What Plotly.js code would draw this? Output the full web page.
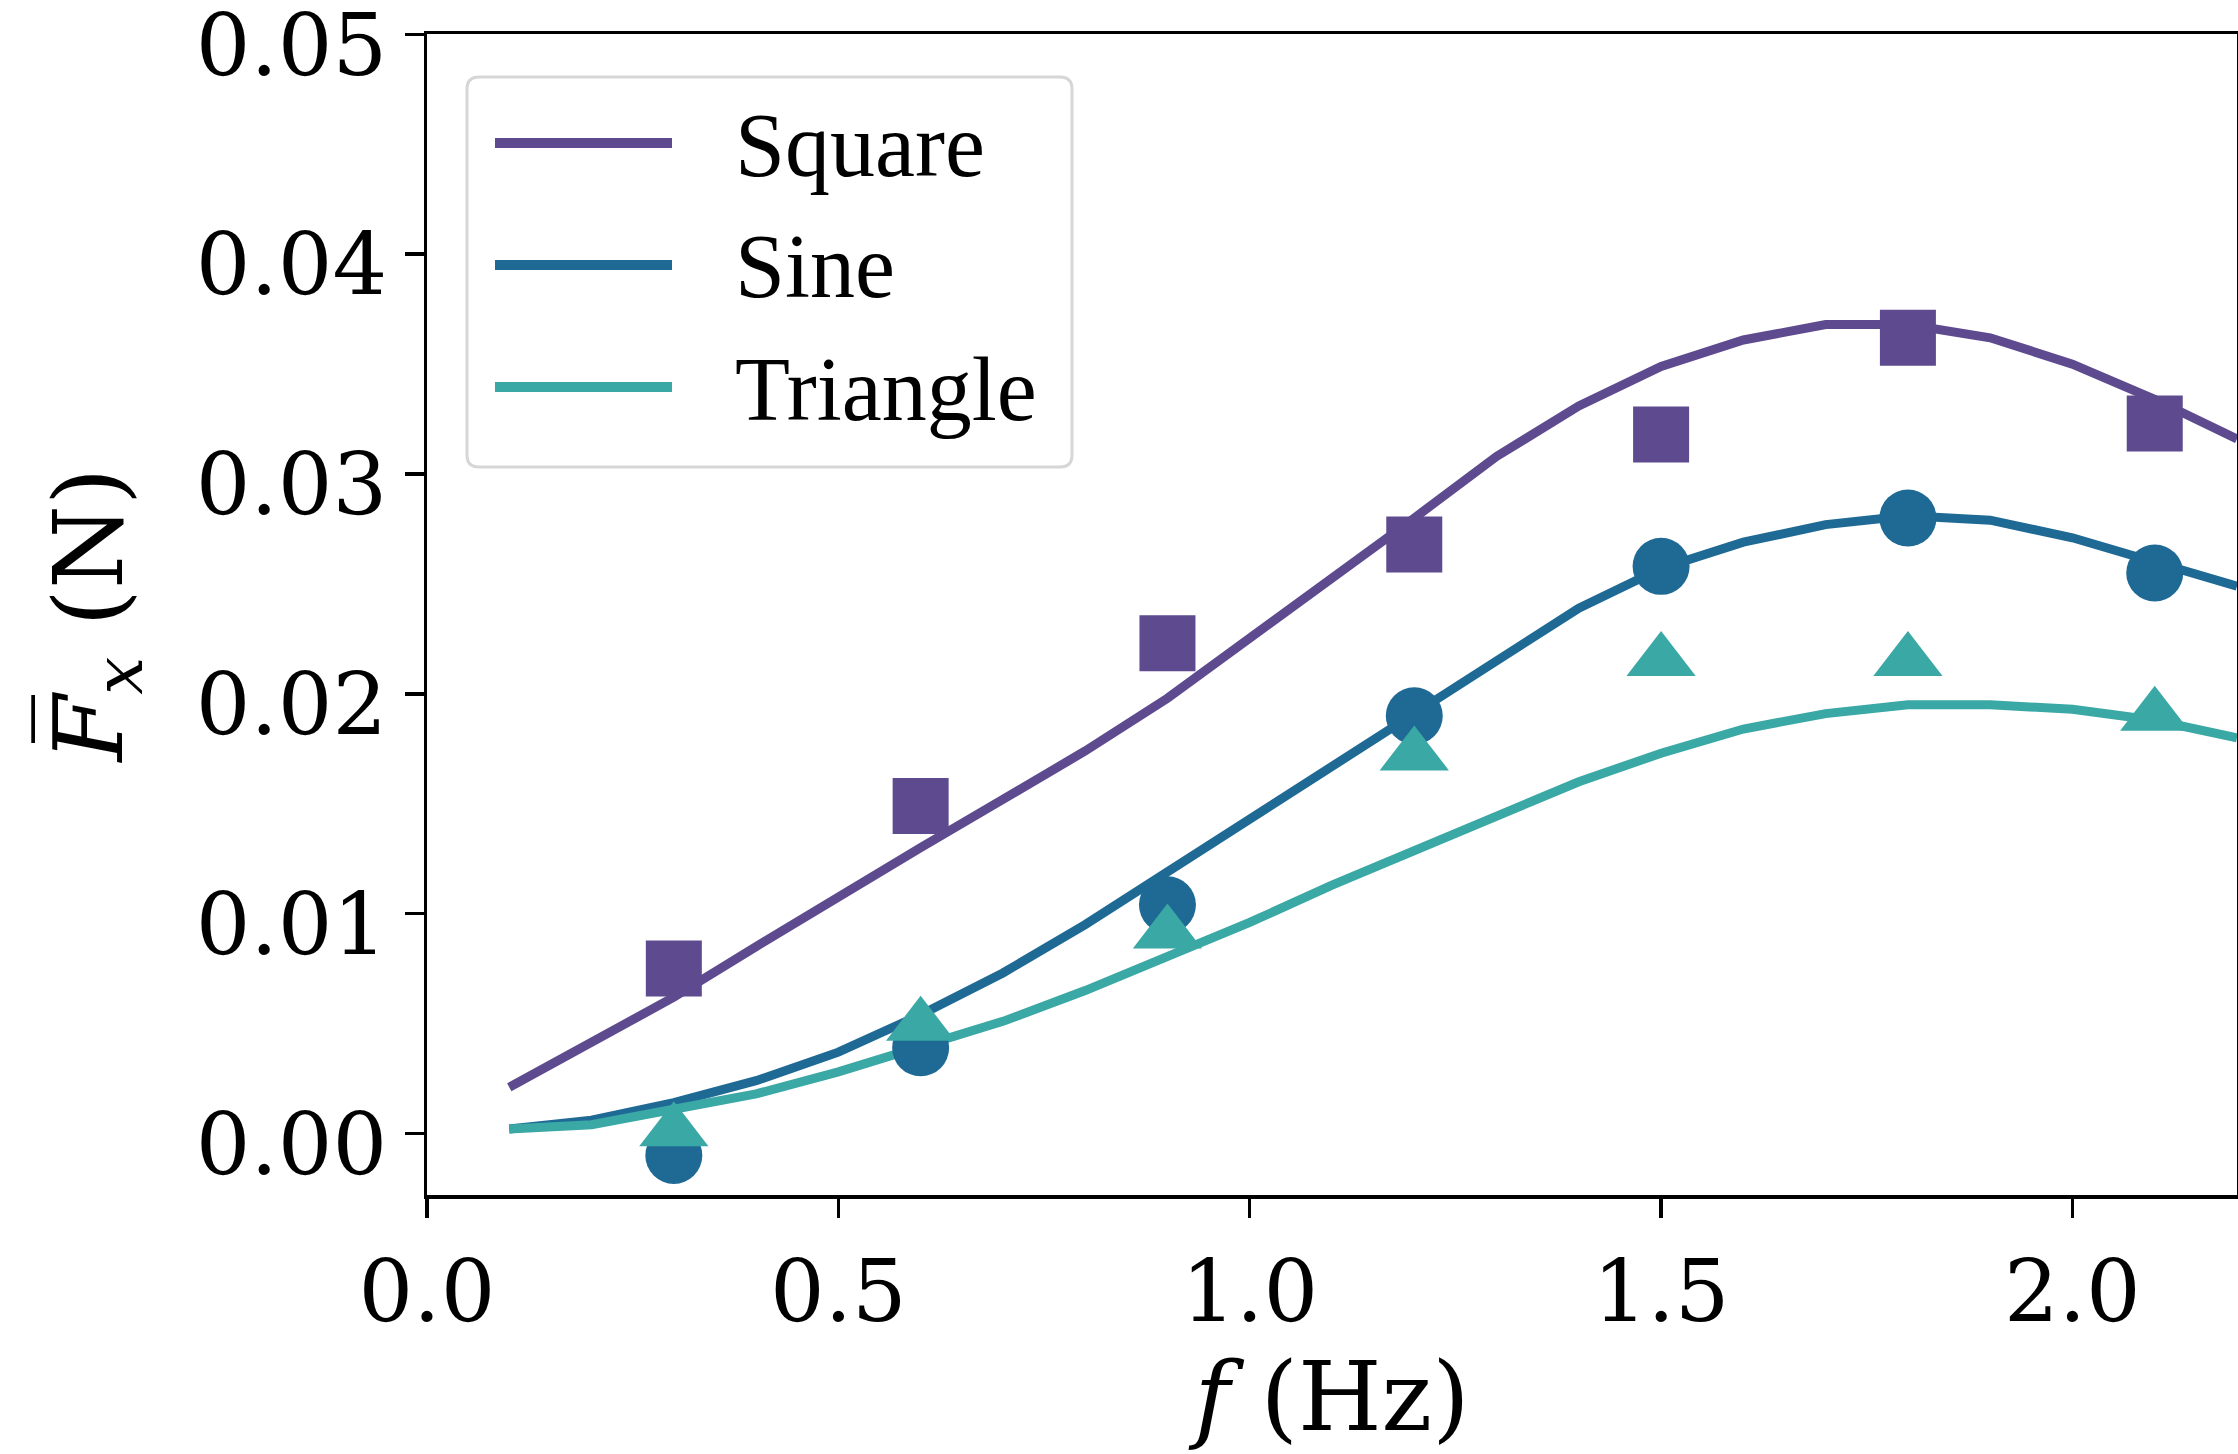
<!DOCTYPE html>
<html>
<head>
<meta charset="utf-8">
<script src="https://cdn.plot.ly/plotly-3.0.1.min.js"></script>
<style>
  html, body { margin: 0; padding: 0; background: #ffffff; }
  #chart { width: 2238px; height: 1454px; }
</style>
</head>
<body>
<div id="chart"></div>
<script>
// ---------------- data ----------------
const seriesNames = ['Square', 'Sine', 'Triangle'];
const seriesColors = ['#5e4a8f', '#1f6a95', '#3aa8a5'];
const markerSymbols = ['square', 'circle', 'triangle-up'];

// model curves (lines)
const xModel = [0.1, 0.2, 0.3, 0.4, 0.5, 0.6, 0.7, 0.8, 0.9, 1.0, 1.1,
                1.2, 1.3, 1.4, 1.5, 1.6, 1.7, 1.8, 1.9, 2.0, 2.1, 2.2];
const squareModel = [0.0021, 0.0041, 0.0062, 0.0085, 0.0108, 0.0130, 0.0152, 0.0174, 0.0198, 0.0225, 0.0253,
                     0.0280, 0.0308, 0.0331, 0.0349, 0.0361, 0.0368, 0.0368, 0.0362, 0.0350, 0.0334, 0.0316];
const sineModel = [0.0002, 0.0006, 0.0014, 0.0024, 0.0037, 0.0054, 0.0073, 0.0095, 0.0119, 0.0143, 0.0167,
                   0.0190, 0.0215, 0.0239, 0.0257, 0.0269, 0.0277, 0.0281, 0.0279, 0.0271, 0.0260, 0.0249];
const triangleModel = [0.0002, 0.0004, 0.0011, 0.0018, 0.0028, 0.0039, 0.0051, 0.0065, 0.0080, 0.0096, 0.0113,
                       0.0129, 0.0145, 0.0160, 0.0173, 0.0184, 0.0191, 0.0195, 0.0195, 0.0193, 0.0188, 0.0180];

// experimental points (markers)
const xExp = [0.3, 0.6, 0.9, 1.2, 1.5, 1.8, 2.1];
const squareExp = [0.0075, 0.0149, 0.0223, 0.0268, 0.0318, 0.0362, 0.0323];
const sineExp = [-0.0010, 0.0039, 0.0104, 0.0190, 0.0258, 0.0280, 0.0255];
const triangleExp = [0.0001, 0.0049, 0.0091, 0.0172, 0.0215, 0.0215, 0.0190];

// ticks
const xTickVals = [0, 0.5, 1.0, 1.5, 2.0];
const xTickText = ['0.0', '0.5', '1.0', '1.5', '2.0'];
const yTickVals = [0, 0.01, 0.02, 0.03, 0.04, 0.05];
const yTickText = ['0.00', '0.01', '0.02', '0.03', '0.04', '0.05'];

// ---------------- layout geometry ----------------
const W = 2238, H = 1454;
const M = { l: 427, r: 1, t: 34, b: 259 };
const PW = W - M.l - M.r, PH = H - M.t - M.b;
const px2x = p => (p - M.l) / PW;
const px2y = p => (H - M.b - p) / PH;

const modelY = [squareModel, sineModel, triangleModel];
const expY = [squareExp, sineExp, triangleExp];

const traces = [];
for (let i = 0; i < 3; i++) {
  traces.push({
    type: 'scatter', mode: 'lines', x: xModel, y: modelY[i], name: seriesNames[i],
    line: { color: seriesColors[i], width: 9 }, showlegend: false, hoverinfo: 'skip'
  });
}
const markerSizes = [56, 57, 60];
for (let i = 0; i < 3; i++) {
  traces.push({
    type: 'scatter', mode: 'markers', x: xExp, y: expY[i], name: seriesNames[i] + ' (exp)',
    marker: { color: seriesColors[i], symbol: markerSymbols[i], size: markerSizes[i], line: { width: 0 } },
    showlegend: false, hoverinfo: 'skip', cliponaxis: false
  });
}

// ---------------- manual legend (matplotlib style) ----------------
const shapes = [];
const annotations = [];
(function () {
  const bx0 = 467, bx1 = 1072, by0 = 77, by1 = 467, rad = 12;
  const rx = rad / PW, ry = rad / PH;
  const X0 = px2x(bx0), X1 = px2x(bx1), Y0 = px2y(by1), Y1 = px2y(by0);
  const path = `M ${X0 + rx},${Y1} L ${X1 - rx},${Y1} Q ${X1},${Y1} ${X1},${Y1 - ry} ` +
               `L ${X1},${Y0 + ry} Q ${X1},${Y0} ${X1 - rx},${Y0} L ${X0 + rx},${Y0} ` +
               `Q ${X0},${Y0} ${X0},${Y0 + ry} L ${X0},${Y1 - ry} Q ${X0},${Y1} ${X0 + rx},${Y1} Z`;
  shapes.push({ type: 'path', xref: 'paper', yref: 'paper', path: path, fillcolor: 'rgba(255,255,255,0.85)',
                line: { color: '#d6d6d6', width: 3 }, layer: 'above' });
  const rowY = [143, 265, 387];
  for (let i = 0; i < 3; i++) {
    shapes.push({ type: 'line', xref: 'paper', yref: 'paper', x0: px2x(495), x1: px2x(672),
                  y0: px2y(rowY[i]), y1: px2y(rowY[i]), line: { color: seriesColors[i], width: 10 }, layer: 'above' });
    annotations.push({ xref: 'paper', yref: 'paper', x: px2x(733), y: px2y(rowY[i] + 2), xanchor: 'left', yanchor: 'middle',
                       text: seriesNames[i], showarrow: false,
                       font: { family: 'Liberation Serif, Times New Roman, serif', size: 90, color: '#000' } });
  }
})();

const tickFont = { family: 'DejaVu Serif, serif', size: 86, color: '#000' };
const titleFont = { family: 'DejaVu Serif, serif', size: 96, color: '#000' };

const layout = {
  width: W, height: H,
  margin: M,
  paper_bgcolor: '#ffffff', plot_bgcolor: '#ffffff',
  showlegend: false,
  xaxis: {
    range: [0, 2.2], tickvals: xTickVals, ticktext: xTickText,
    ticks: 'outside', ticklen: 19, tickwidth: 3.5, tickcolor: '#000',
    showline: true, linewidth: 3.5, linecolor: '#000', mirror: true,
    showgrid: false, zeroline: false, tickfont: tickFont, ticklabeloverflow: 'allow',
    title: { text: '<i>f</i> (Hz)', font: titleFont, standoff: 24 },
    automargin: false
  },
  yaxis: {
    range: [-0.0028, 0.05002], tickvals: yTickVals, ticktext: yTickText,
    ticks: 'outside', ticklen: 19, tickwidth: 3.5, tickcolor: '#000',
    showline: true, linewidth: 3.5, linecolor: '#000', mirror: true,
    showgrid: false, zeroline: false, tickfont: tickFont, ticklabeloverflow: 'allow',
    ticklabelshift: 10,
    title: { text: '<i>F\u0305</i><sub><i>x</i></sub> (N)', font: titleFont, standoff: 42 },
    automargin: false
  },
  shapes: shapes,
  annotations: annotations
};

Plotly.newPlot('chart', traces, layout, { staticPlot: true, displayModeBar: false });
</script>
</body>
</html>
